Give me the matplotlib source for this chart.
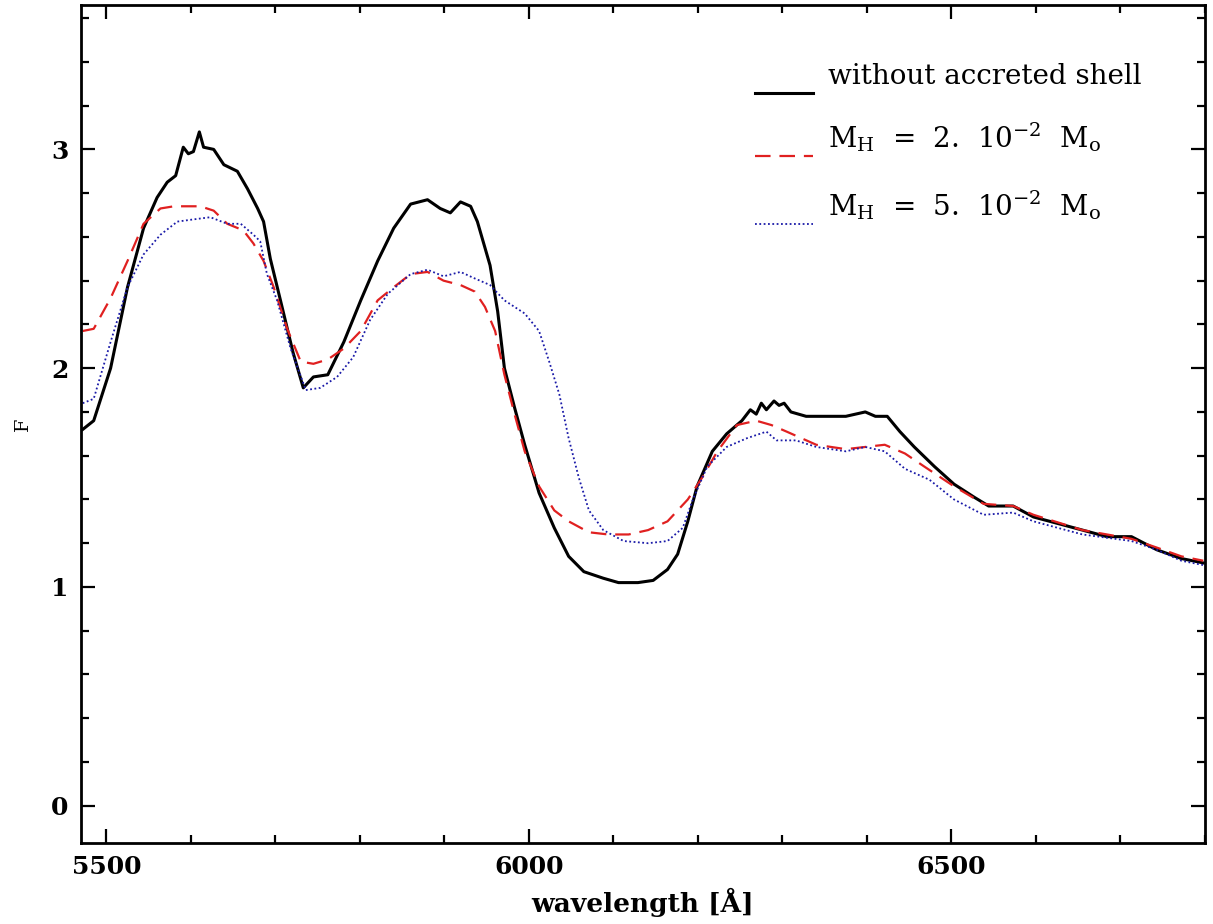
import matplotlib
matplotlib.use("Agg")
import matplotlib.pyplot as plt
from matplotlib.ticker import MultipleLocator

# spectra (wavelength in Angstrom, flux F)
wl_black = [5472, 5485, 5505, 5525, 5544, 5560, 5572, 5582, 5591, 5597, 5603, 5610,
            5615, 5627, 5639, 5655, 5667, 5679, 5686, 5694, 5706, 5721, 5733, 5745,
            5762, 5781, 5801, 5821, 5840, 5860, 5880, 5895, 5907, 5919, 5931, 5939,
            5948, 5954, 5963, 5971, 5983, 5995, 6012, 6030, 6047, 6065, 6088, 6106,
            6129, 6147, 6164, 6176, 6188, 6199, 6217, 6234, 6252, 6262, 6269, 6275,
            6281, 6290, 6296, 6302, 6310, 6328, 6351, 6375, 6398, 6410, 6424, 6439,
            6456, 6480, 6503, 6527, 6544, 6573, 6597, 6626, 6655, 6684, 6713, 6743,
            6772, 6798]
f_black = [1.72, 1.76, 2.00, 2.37, 2.64, 2.78, 2.85, 2.88, 3.01, 2.98, 2.99, 3.08,
           3.01, 3.00, 2.93, 2.90, 2.82, 2.73, 2.67, 2.50, 2.31, 2.07, 1.91, 1.96,
           1.97, 2.12, 2.31, 2.49, 2.64, 2.75, 2.77, 2.73, 2.71, 2.76, 2.74, 2.67,
           2.55, 2.47, 2.26, 2.00, 1.82, 1.65, 1.43, 1.27, 1.14, 1.07, 1.04, 1.02,
           1.02, 1.03, 1.08, 1.15, 1.30, 1.46, 1.62, 1.70, 1.76, 1.81, 1.79, 1.84,
           1.81, 1.85, 1.83, 1.84, 1.80, 1.78, 1.78, 1.78, 1.80, 1.78, 1.78, 1.71,
           1.64, 1.55, 1.47, 1.41, 1.37, 1.37, 1.32, 1.29, 1.26, 1.23, 1.23, 1.17,
           1.13, 1.11]

wl_red = [5472, 5485, 5505, 5525, 5544, 5564, 5580, 5596, 5611, 5627, 5643, 5662,
          5674, 5686, 5698, 5714, 5730, 5745, 5762, 5781, 5801, 5821, 5840, 5860,
          5880, 5899, 5919, 5936, 5948, 5960, 5971, 5983, 5995, 6012, 6030, 6047,
          6071, 6094, 6118, 6141, 6164, 6188, 6205, 6223, 6246, 6269, 6287, 6305,
          6340, 6375, 6398, 6421, 6445, 6468, 6503, 6538, 6573, 6597, 6655, 6713,
          6743, 6772, 6798]
f_red = [2.17, 2.18, 2.32, 2.49, 2.66, 2.73, 2.74, 2.74, 2.74, 2.72, 2.66, 2.63,
         2.57, 2.49, 2.37, 2.18, 2.03, 2.02, 2.04, 2.09, 2.17, 2.31, 2.37, 2.43,
         2.44, 2.40, 2.38, 2.35, 2.28, 2.17, 1.97, 1.79, 1.62, 1.46, 1.35, 1.30,
         1.25, 1.24, 1.24, 1.26, 1.30, 1.40, 1.50, 1.62, 1.74, 1.76, 1.74, 1.71,
         1.65, 1.63, 1.64, 1.65, 1.61, 1.55, 1.46, 1.38, 1.37, 1.33, 1.26, 1.22,
         1.18, 1.14, 1.12]

wl_blue = [5472, 5485, 5505, 5525, 5544, 5564, 5584, 5603, 5623, 5643, 5659, 5674,
           5682, 5690, 5702, 5718, 5736, 5753, 5773, 5792, 5812, 5833, 5860, 5880,
           5899, 5919, 5936, 5954, 5971, 5995, 6012, 6024, 6036, 6047, 6059, 6071,
           6088, 6112, 6141, 6164, 6182, 6194, 6211, 6234, 6258, 6281, 6293, 6316,
           6340, 6375, 6398, 6421, 6445, 6474, 6503, 6538, 6573, 6597, 6655, 6713,
           6743, 6772, 6798]
f_blue = [1.84, 1.86, 2.12, 2.37, 2.52, 2.61, 2.67, 2.68, 2.69, 2.66, 2.66, 2.61,
          2.58, 2.43, 2.31, 2.09, 1.90, 1.91, 1.96, 2.05, 2.22, 2.34, 2.43, 2.45,
          2.42, 2.44, 2.41, 2.38, 2.31, 2.25, 2.17, 2.03, 1.88, 1.68, 1.50, 1.35,
          1.26, 1.21, 1.20, 1.21, 1.27, 1.40, 1.55, 1.64, 1.68, 1.71, 1.67, 1.67,
          1.64, 1.62, 1.64, 1.62, 1.54, 1.49, 1.40, 1.33, 1.34, 1.30, 1.24, 1.21,
          1.17, 1.12, 1.10]

legend_labels = ["without accreted shell",
                 r"M$_\mathrm{H}$  =  2.  10$^{-2}$  M$_\mathrm{o}$",
                 r"M$_\mathrm{H}$  =  5.  10$^{-2}$  M$_\mathrm{o}$"]

plt.rcParams["font.family"] = "DejaVu Serif"
plt.rcParams["mathtext.fontset"] = "dejavuserif"

fig = plt.figure(figsize=(12.13, 9.24), dpi=100)
ax = fig.add_axes([0.0668, 0.0877, 0.9266, 0.9069])

black_style = dict(color="black", lw=2.2)
red_style = dict(color="#e02020", lw=1.6, dashes=(7, 4))
blue_style = dict(color="#1a1aa8", lw=1.3, linestyle=(0, (1, 1.4)))

ax.plot(wl_black, f_black, **black_style)
ax.plot(wl_red, f_red, **red_style)
ax.plot(wl_blue, f_blue, **blue_style)

ax.set_xlim(5470, 6800)
ax.set_ylim(-0.17, 3.66)

ax.xaxis.set_major_locator(MultipleLocator(500))
ax.xaxis.set_minor_locator(MultipleLocator(100))
ax.yaxis.set_major_locator(MultipleLocator(1))
ax.yaxis.set_minor_locator(MultipleLocator(0.2))
ax.tick_params(which="both", direction="in", top=True, right=True, width=1.6)
ax.tick_params(which="major", length=10, labelsize=18, pad=9)
ax.tick_params(which="minor", length=5.5)
for lab in ax.get_xticklabels() + ax.get_yticklabels():
    lab.set_fontweight("bold")
for sp in ax.spines.values():
    sp.set_linewidth(2)

ax.set_xlabel("wavelength [Å]", fontsize=19, fontweight="bold", labelpad=6)
ax.set_ylabel("F", fontsize=14, labelpad=14)

# hand-made legend in data coordinates
leg_y = [3.26, 2.97, 2.66]
for lab, st, y in zip(legend_labels, [black_style, red_style, blue_style], leg_y):
    ax.plot([6268, 6336], [y, y], **st)
    ax.text(6354, y + 0.01, lab, fontsize=20, va="bottom", ha="left")

fig.savefig("out.png", dpi=100, facecolor="white")
